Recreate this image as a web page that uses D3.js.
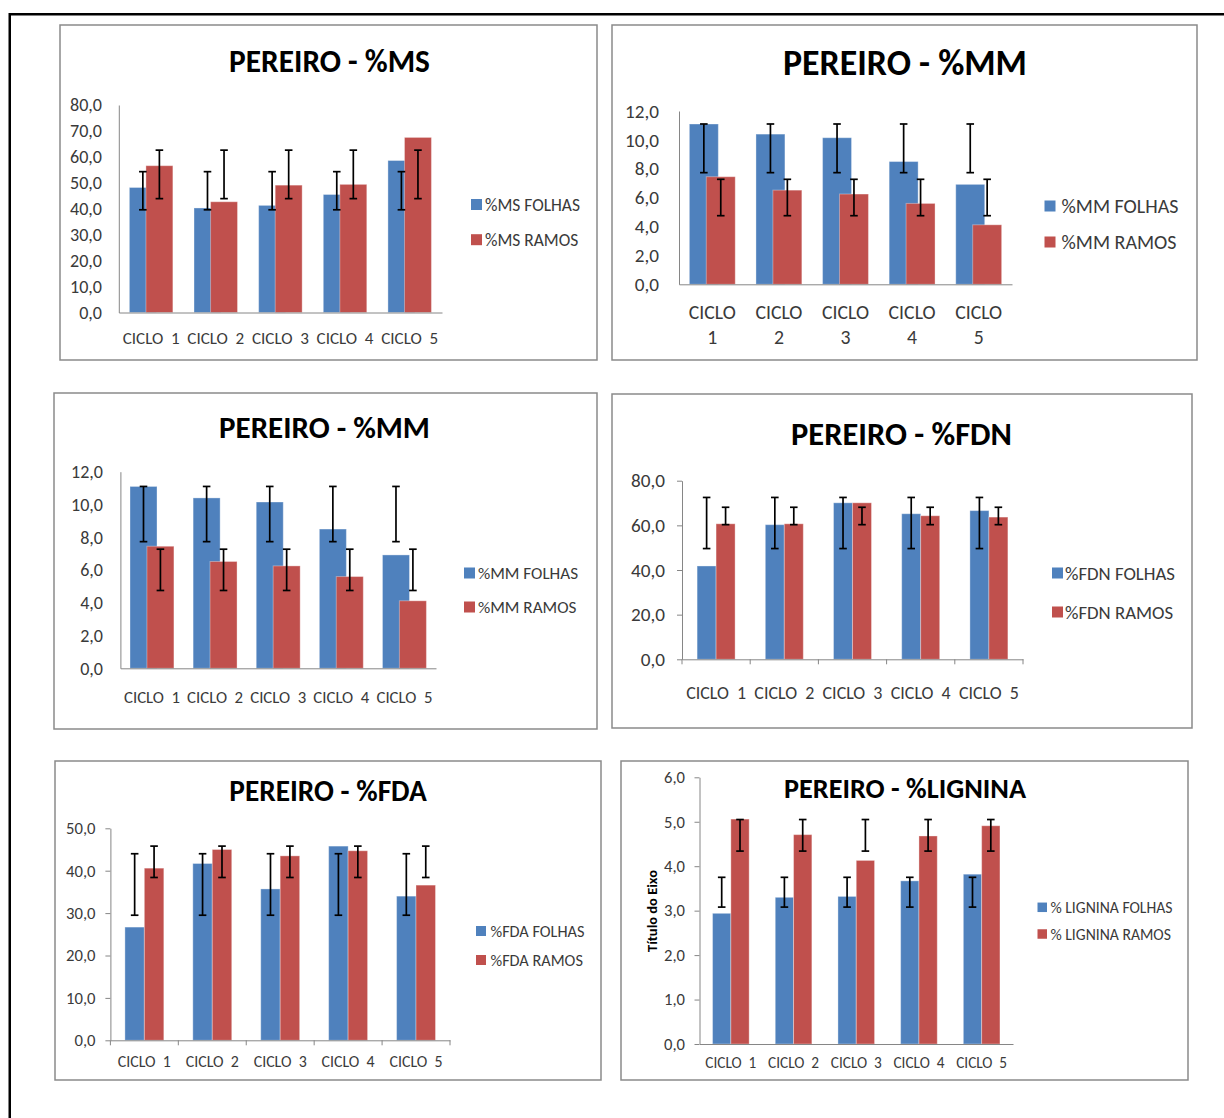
<!DOCTYPE html>
<html><head><meta charset="utf-8">
<script src="https://cdn.jsdelivr.net/npm/d3@7"></script>
<style>
body{margin:0;background:#fff}
svg{display:block}
text{font-family:Carlito,Lato,'Liberation Sans',sans-serif}
</style>
</head><body>
<svg id="c" width="1224" height="1118"></svg>
<script>
// ---------- DATA ----------
const categories = ["CICLO  1", "CICLO  2", "CICLO  3", "CICLO  4", "CICLO  5"];

const msTitle = "PEREIRO - %MS";
const msLegend = ["%MS FOLHAS", "%MS RAMOS"];
const msTicks = [0, 10, 20, 30, 40, 50, 60, 70, 80];
const msFolhas = [48.2, 40.3, 41.3, 45.5, 58.6];
const msRamos = [56.6, 42.7, 49.1, 49.4, 67.5];
const msFolhasErrLow = [39.6, 39.6, 39.6, 39.6, 39.6];
const msFolhasErrHigh = [54.3, 54.3, 54.3, 54.3, 54.3];
const msRamosErrLow = [43.9, 43.9, 43.9, 43.9, 43.9];
const msRamosErrHigh = [62.6, 62.6, 62.6, 62.6, 62.6];

const mmTitle = "PEREIRO - %MM";
const mmLegend = ["%MM FOLHAS", "%MM RAMOS"];
const mmTicks = [0, 2, 4, 6, 8, 10, 12];
const mmFolhas = [11.1, 10.4, 10.15, 8.5, 6.92];
const mmRamos = [7.45, 6.52, 6.25, 5.6, 4.12];
const mmFolhasErrLow = [7.73, 7.73, 7.73, 7.73, 7.73];
const mmFolhasErrHigh = [11.1, 11.1, 11.1, 11.1, 11.1];
const mmRamosErrLow = [4.75, 4.75, 4.75, 4.75, 4.75];
const mmRamosErrHigh = [7.27, 7.27, 7.27, 7.27, 7.27];

const fdnTitle = "PEREIRO - %FDN";
const fdnLegend = ["%FDN FOLHAS", "%FDN RAMOS"];
const fdnTicks = [0, 20, 40, 60, 80];
const fdnFolhas = [41.8, 60.3, 70.1, 65.2, 66.6];
const fdnRamos = [60.7, 60.7, 70.1, 64.3, 63.7];
const fdnFolhasErrLow = [49.6, 49.6, 49.6, 49.6, 49.6];
const fdnFolhasErrHigh = [72.5, 72.5, 72.5, 72.5, 72.5];
const fdnRamosErrLow = [60.3, 60.3, 60.3, 60.3, 60.3];
const fdnRamosErrHigh = [68.1, 68.1, 68.1, 68.1, 68.1];

const fdaTitle = "PEREIRO - %FDA";
const fdaLegend = ["%FDA FOLHAS", "%FDA RAMOS"];
const fdaTicks = [0, 10, 20, 30, 40, 50];
const fdaFolhas = [26.7, 41.7, 35.7, 45.8, 34.0];
const fdaRamos = [40.6, 45.0, 43.5, 44.7, 36.6];
const fdaFolhasErrLow = [29.5, 29.5, 29.5, 29.5, 29.5];
const fdaFolhasErrHigh = [44.0, 44.0, 44.0, 44.0, 44.0];
const fdaRamosErrLow = [38.4, 38.4, 38.4, 38.4, 38.4];
const fdaRamosErrHigh = [45.8, 45.8, 45.8, 45.8, 45.8];

const ligTitle = "PEREIRO - %LIGNINA";
const ligLegend = ["% LIGNINA FOLHAS", "% LIGNINA RAMOS"];
const ligAxisTitle = "Título do Eixo";
const ligTicks = [0, 1, 2, 3, 4, 5, 6];
const ligFolhas = [2.94, 3.30, 3.32, 3.67, 3.82];
const ligRamos = [5.06, 4.71, 4.13, 4.68, 4.91];
const ligFolhasErrLow = [3.08, 3.08, 3.08, 3.08, 3.08];
const ligFolhasErrHigh = [3.75, 3.75, 3.75, 3.75, 3.75];
const ligRamosErrLow = [4.34, 4.34, 4.34, 4.34, 4.34];
const ligRamosErrHigh = [5.05, 5.05, 5.05, 5.05, 5.05];

// ---------- LAYOUT / STYLE ----------
const BLUE = "#4F81BD", RED = "#C0504D", AXIS = "#868686", BORDER = "#8a8a8a", LABEL = "#3a3a3a";

const panels = [
  {title: msTitle, legend: msLegend, ticks: msTicks, series: [[msFolhas, msFolhasErrLow, msFolhasErrHigh], [msRamos, msRamosErrLow, msRamosErrHigh]],
   L: {box:[60,25,597,360], x0:118.8, x1:442, yTop:105, yBot:312.5, labelRight:102, tickW:32, yTicks:false, xTicks:false, barW:0.417, off:0.128,
       title:{cx:329.5,y:72,w:201}, leg:{sq:471,tx:485,rows:[204.5,239.7],w:95,s:11}, xl:{y:[337.5],w:57}}},
  {title: mmTitle, legend: mmLegend, ticks: mmTicks, series: [[mmFolhas, mmFolhasErrLow, mmFolhasErrHigh], [mmRamos, mmRamosErrLow, mmRamosErrHigh]],
   L: {box:[612,25,1197,360], x0:679, x1:1012, yTop:111, yBot:284.3, labelRight:659, tickW:34, yTicks:false, xTicks:false, barW:0.435, off:0.127,
       title:{cx:905,y:75,w:244}, leg:{sq:1044.5,tx:1061.5,rows:[206,242],w:117,s:11}, xl:{y:[312,337],w:47,wrap:true}}},
  {title: mmTitle, legend: mmLegend, ticks: mmTicks, series: [[mmFolhas, mmFolhasErrLow, mmFolhasErrHigh], [mmRamos, mmRamosErrLow, mmRamosErrHigh]],
   L: {box:[54,393,597,729], x0:120.4, x1:436, yTop:471.7, yBot:668.3, labelRight:103, tickW:32, yTicks:false, xTicks:false, barW:0.428, off:0.134,
       title:{cx:324.5,y:438,w:211}, leg:{sq:464,tx:478,rows:[573,607],w:100,s:11}, xl:{y:[697],w:56}}},
  {title: fdnTitle, legend: fdnLegend, ticks: fdnTicks, series: [[fdnFolhas, fdnFolhasErrLow, fdnFolhasErrHigh], [fdnRamos, fdnRamosErrLow, fdnRamosErrHigh]],
   L: {box:[612,394,1192,728], x0:682, x1:1023, yTop:480.7, yBot:659.3, labelRight:665, tickW:34, yTicks:true, xTicks:true, barW:0.279, off:0.139,
       title:{cx:901.5,y:445,w:221}, leg:{sq:1052,tx:1065,rows:[573,612],w:110,s:11}, xl:{y:[693],w:60}}},
  {title: fdaTitle, legend: fdaLegend, ticks: fdaTicks, series: [[fdaFolhas, fdaFolhasErrLow, fdaFolhasErrHigh], [fdaRamos, fdaRamosErrLow, fdaRamosErrHigh]],
   L: {box:[55,761,601,1080], x0:110.4, x1:450, yTop:828.3, yBot:1040.3, labelRight:95.5, tickW:29.5, yTicks:true, xTicks:true, barW:0.287, off:0.143,
       title:{cx:328,y:800.7,w:197.5}, leg:{sq:476,tx:490.5,rows:[931,960],w:94,s:10}, xl:{y:[1061],w:53}}},
  {title: ligTitle, legend: ligLegend, ticks: ligTicks, series: [[ligFolhas, ligFolhasErrLow, ligFolhasErrHigh], [ligRamos, ligRamosErrLow, ligRamosErrHigh]], axisTitle: ligAxisTitle,
   L: {box:[621,761,1188,1080], x0:699.5, x1:1013, yTop:777.3, yBot:1044, labelRight:685, tickW:21, yTicks:true, xTicks:false, barW:0.292, off:0.146,
       title:{cx:905,y:797.7,w:242}, leg:{sq:1037.5,tx:1050.5,rows:[907.3,934],w:122,s:9.5}, xl:{y:[1062.3],w:51}, axisTitle:{x:652,y:911,w:82}}}
];

const locale = d3.formatLocale({decimal: ",", thousands: ".", grouping: [3], currency: ["", ""]});
const fmt = locale.format(".1f");

const svg = d3.select("#c");

function fitSize(sel, target) {
  const len = sel.node().getComputedTextLength();
  const fs = parseFloat(sel.attr("font-size"));
  return len > 0 ? +(fs * target / len).toFixed(2) : fs;
}

// outer frame
svg.append("line").attr("x1", 9).attr("x2", 1224).attr("y1", 14.25).attr("y2", 14.25).attr("stroke", "#000").attr("stroke-width", 2.5);
svg.append("line").attr("x1", 9.75).attr("x2", 9.75).attr("y1", 13).attr("y2", 1118).attr("stroke", "#000").attr("stroke-width", 2.5);

panels.forEach(p => {
  const L = p.L;
  const g = svg.append("g");
  g.append("rect")
    .attr("x", L.box[0]).attr("y", L.box[1])
    .attr("width", L.box[2] - L.box[0]).attr("height", L.box[3] - L.box[1])
    .attr("fill", "#fff").attr("stroke", BORDER).attr("stroke-width", 1.5);

  const x = d3.scaleBand().domain(categories).range([L.x0, L.x1]).padding(0);
  const y = d3.scaleLinear().domain([p.ticks[0], p.ticks[p.ticks.length - 1]]).range([L.yBot, L.yTop]);
  const bw = x.bandwidth();
  const w = L.barW * bw;
  const colors = [BLUE, RED];
  const offs = [-L.off * bw, L.off * bw];

  // bars
  p.series.forEach((s, si) => {
    g.append("g").selectAll("rect").data(s[0]).join("rect")
      .attr("x", (d, i) => x(categories[i]) + bw / 2 + offs[si] - w / 2)
      .attr("width", w)
      .attr("y", d => y(d))
      .attr("height", d => y(0) - y(d))
      .attr("fill", colors[si])
      .attr("stroke", "rgba(255,255,255,0.35)").attr("stroke-width", 1);
  });

  // y axis
  const tickLen = L.yTicks ? 5 : 0;
  const ya = g.append("g").attr("transform", `translate(${L.x0},0)`)
    .call(d3.axisLeft(y).tickValues(p.ticks).tickFormat(fmt).tickSize(tickLen).tickSizeOuter(0)
      .tickPadding(L.x0 - L.labelRight - tickLen));
  ya.attr("font-family", null).attr("font-size", null);
  ya.select(".domain").attr("stroke", AXIS);
  ya.selectAll(".tick line").attr("stroke", AXIS);
  const tt = ya.selectAll(".tick text").attr("font-size", 15).attr("fill", LABEL);
  const topTick = ya.selectAll(".tick text").filter(d => d === p.ticks[p.ticks.length - 1]);
  const tfs = fitSize(topTick, L.tickW);
  tt.attr("font-size", tfs);

  // x axis line
  const xa = g.append("g").attr("transform", `translate(0,${L.yBot})`)
    .call(d3.axisBottom(x).tickValues([]).tickSizeOuter(0));
  xa.select(".domain").attr("stroke", AXIS);
  if (L.xTicks) {
    const bounds = categories.map(c => x(c)).concat([L.x1]);
    g.append("g").selectAll("line").data(bounds).join("line")
      .attr("x1", d => d).attr("x2", d => d)
      .attr("y1", L.yBot).attr("y2", L.yBot + 5)
      .attr("stroke", AXIS);
  }

  // x labels
  const xl = g.append("g");
  categories.forEach(c => {
    const cx = x(c) + bw / 2;
    if (L.xl.wrap) {
      c.split(/\s+/).forEach((t, k) => {
        xl.append("text").attr("x", cx).attr("y", L.xl.y[k]).attr("dy", "0.36em")
          .attr("text-anchor", "middle").attr("font-size", 15).attr("fill", LABEL).text(t);
      });
    } else {
      xl.append("text").attr("x", cx).attr("y", L.xl.y[0]).attr("dy", "0.36em")
        .attr("text-anchor", "middle").attr("font-size", 15).attr("fill", LABEL)
        .style("white-space", "pre").text(c);
    }
  });
  const xfs = fitSize(xl.select("text"), L.xl.w);
  xl.selectAll("text").attr("font-size", xfs);

  // error bars
  p.series.forEach((s, si) => {
    const eg = g.append("g").attr("stroke", "#000").attr("stroke-width", 1.7);
    s[0].forEach((v, i) => {
      const cx = x(categories[i]) + bw / 2 + offs[si];
      const lo = y(s[1][i]), hi = y(s[2][i]);
      eg.append("line").attr("x1", cx).attr("x2", cx).attr("y1", lo).attr("y2", hi);
      eg.append("line").attr("x1", cx - 3.8).attr("x2", cx + 3.8).attr("y1", lo).attr("y2", lo);
      eg.append("line").attr("x1", cx - 3.8).attr("x2", cx + 3.8).attr("y1", hi).attr("y2", hi);
    });
  });

  // title
  const t = g.append("text").attr("x", L.title.cx).attr("y", L.title.y)
    .attr("text-anchor", "middle").attr("font-weight", "bold").attr("font-size", 28)
    .attr("fill", "#000").text(p.title);
  t.attr("font-size", fitSize(t, L.title.w));

  // legend
  let legFs = null;
  p.legend.forEach((lab, k) => {
    const cy = L.leg.rows[k];
    g.append("rect").attr("x", L.leg.sq).attr("y", cy - L.leg.s / 2)
      .attr("width", L.leg.s).attr("height", L.leg.s).attr("fill", colors[k]);
    const lt = g.append("text").attr("x", L.leg.tx).attr("y", cy).attr("dy", "0.36em")
      .attr("font-size", 15).attr("fill", LABEL).text(lab);
    if (k === 0) legFs = fitSize(lt, L.leg.w);
    lt.attr("font-size", legFs);
  });

  // axis title
  if (p.axisTitle) {
    const at = g.append("text")
      .attr("transform", `translate(${L.axisTitle.x},${L.axisTitle.y}) rotate(-90)`)
      .attr("text-anchor", "middle").attr("dy", "0.36em")
      .attr("font-weight", "bold").attr("font-size", 13).attr("fill", "#000").text(p.axisTitle);
    at.attr("font-size", fitSize(at, L.axisTitle.w));
  }
});
</script>
</body></html>
